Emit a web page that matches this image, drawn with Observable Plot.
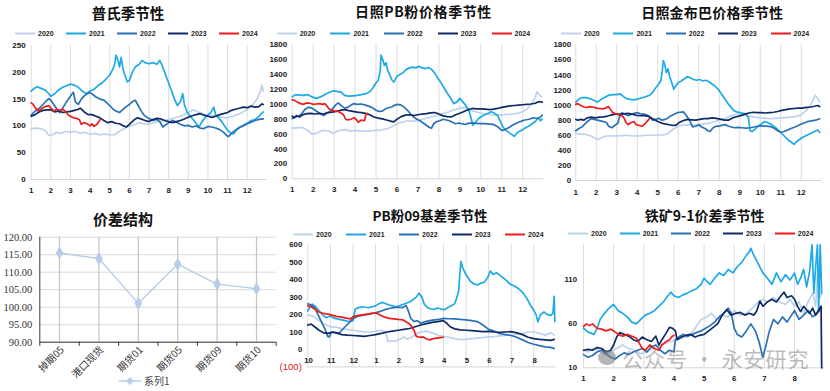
<!DOCTYPE html>
<html><head><meta charset="utf-8">
<script src="https://cdn.jsdelivr.net/npm/d3@7"></script>
<script src="https://cdn.jsdelivr.net/npm/@observablehq/plot@0.6"></script>
<style>
body{margin:0;background:#fff;width:830px;height:391px;overflow:hidden;position:relative;font-family:"Liberation Sans",Arial,sans-serif}
.panel{position:absolute;overflow:visible}
.panel svg{overflow:visible}
.title{position:absolute;font-family:"Noto Sans CJK SC";font-weight:700;font-size:14px;color:#111;white-space:nowrap;transform:translate(-50%,-50%);line-height:1}
.leg{position:absolute;font-size:7px;font-weight:bold;color:#222;white-space:nowrap;line-height:1;transform:translateY(-50%);font-family:"Liberation Sans",Arial,sans-serif}
.leg i{display:inline-block;width:20px;height:2px;vertical-align:middle;margin-right:3px}
</style></head><body>
<script>
// ---------- shared ----------
const years = ["2020","2021","2022","2023","2024"];
const yearColors = ["#bdd3ec","#1eaae6","#2a72b5","#0f2a66","#ee1c1c"];

// ---------- Panel 1: 普氏季节性 ----------
const p1Ticks = [0,50,100,150,200,250];
const p1Months = [1,2,3,4,5,6,7,8,9,10,11,12];
const p1_2020 = [[1,95],[1.25,96],[1.5,95],[1.75,90],[1.9,82],[2.1,84],[2.3,88],[2.5,86],[2.75,90],[3,88],[3.25,90],[3.5,86],[3.75,88],[4,84],[4.25,86],[4.5,83],[4.75,85],[5,83],[5.25,84],[5.5,90],[5.75,95],[6,100],[6.25,102],[6.5,106],[6.75,104],[7,103],[7.25,106],[7.5,108],[7.75,110],[8,112],[8.25,114],[8.5,117],[8.75,120],[9,125],[9.25,130],[9.5,126],[9.75,122],[10,120],[10.25,119],[10.5,118],[10.75,116],[11,115],[11.25,118],[11.5,121],[11.75,125],[12,130],[12.25,138],[12.5,150],[12.65,162],[12.75,176],[12.82,165]];
const p1_2021 = [[1,165],[1.15,170],[1.3,173],[1.5,170],[1.7,167],[1.9,160],[2,155],[2.2,160],[2.4,167],[2.6,172],[2.8,175],[3,178],[3.2,176],[3.4,172],[3.6,165],[3.8,160],[4,165],[4.2,168],[4.4,175],[4.6,180],[4.8,187],[5,195],[5.15,205],[5.25,215],[5.32,232],[5.42,222],[5.5,210],[5.58,228],[5.68,205],[5.8,192],[5.9,182],[6,185],[6.15,200],[6.3,210],[6.5,215],[6.65,222],[6.8,218],[7,216],[7.2,218],[7.4,215],[7.55,222],[7.7,210],[7.85,195],[8,180],[8.15,165],[8.3,150],[8.45,138],[8.6,145],[8.72,160],[8.8,140],[8.95,125],[9.1,118],[9.25,112],[9.4,105],[9.55,98],[9.7,108],[9.85,115],[10,120],[10.15,125],[10.3,135],[10.4,120],[10.55,115],[10.7,108],[10.85,100],[11,92],[11.15,87],[11.3,85],[11.45,92],[11.6,97],[11.75,100],[11.9,103],[12.05,106],[12.2,110],[12.4,112],[12.55,116],[12.7,122],[12.82,126]];
const p1_2022 = [[1,120],[1.15,126],[1.3,130],[1.45,134],[1.6,140],[1.75,146],[1.9,151],[2,148],[2.15,140],[2.3,132],[2.45,125],[2.6,133],[2.75,142],[2.9,150],[3.05,158],[3.15,163],[3.25,145],[3.4,140],[3.55,150],[3.7,156],[3.85,160],[4,162],[4.15,158],[4.3,154],[4.5,150],[4.7,148],[4.85,143],[5,138],[5.15,132],[5.3,128],[5.5,125],[5.65,130],[5.8,135],[6,140],[6.15,145],[6.3,148],[6.45,138],[6.6,128],[6.75,120],[6.9,116],[7.05,113],[7.2,110],[7.4,112],[7.55,108],[7.7,98],[7.85,102],[8,106],[8.2,110],[8.4,107],[8.6,103],[8.8,100],[9,101],[9.2,98],[9.4,100],[9.6,96],[9.8,95],[10,99],[10.2,98],[10.4,96],[10.6,93],[10.8,88],[10.95,82],[11.05,80],[11.2,86],[11.4,92],[11.6,97],[11.8,100],[12,104],[12.2,107],[12.4,110],[12.6,112],[12.82,113]];
const p1_2023 = [[1,118],[1.2,121],[1.4,126],[1.6,129],[1.8,130],[2,130],[2.2,126],[2.4,128],[2.6,125],[2.8,126],[3,127],[3.2,129],[3.4,131],[3.5,133],[3.7,126],[3.9,121],[4.1,121],[4.3,118],[4.5,115],[4.7,110],[4.9,106],[5.1,108],[5.3,105],[5.5,104],[5.7,100],[5.85,98],[6,103],[6.2,110],[6.4,115],[6.6,113],[6.8,110],[7,108],[7.2,112],[7.4,114],[7.6,113],[7.8,110],[8,108],[8.2,106],[8.4,108],[8.6,110],[8.8,113],[9,116],[9.2,119],[9.4,121],[9.6,123],[9.8,120],[10,118],[10.2,116],[10.4,118],[10.6,121],[10.8,123],[11,125],[11.2,129],[11.4,131],[11.6,133],[11.8,135],[12,134],[12.2,137],[12.4,135],[12.6,136],[12.75,141],[12.82,140]];
const p1_2024 = [[1,143],[1.1,140],[1.2,134],[1.35,128],[1.5,131],[1.65,135],[1.8,137],[1.9,138],[2,133],[2.15,128],[2.3,131],[2.45,129],[2.6,131],[2.75,127],[2.9,120],[3,118],[3.15,115],[3.3,114],[3.45,112],[3.55,103],[3.7,106],[3.85,104],[4,100],[4.1,104],[4.2,99],[4.35,103],[4.45,108],[4.53,113]];

// ---------- Panel 2: 日照PB粉价格季节性 ----------
const p2Ticks = [0,200,400,600,800,1000,1200,1400,1600,1800];
const p2_2020 = [[1,680],[1.25,685],[1.5,690],[1.75,650],[1.95,600],[2.15,610],[2.35,640],[2.55,650],[2.75,640],[2.95,610],[3.15,640],[3.35,655],[3.55,660],[3.75,640],[4,650],[4.25,640],[4.5,640],[4.75,645],[5,650],[5.25,655],[5.5,670],[5.75,700],[6,740],[6.25,760],[6.5,780],[6.75,775],[7,780],[7.25,800],[7.5,820],[7.75,840],[8,860],[8.25,880],[8.5,900],[8.75,930],[9,950],[9.25,960],[9.5,920],[9.75,900],[10,880],[10.25,870],[10.5,860],[10.75,855],[11,860],[11.25,865],[11.5,870],[11.75,880],[12,900],[12.25,950],[12.45,1020],[12.6,1100],[12.68,1170],[12.78,1130],[12.9,1100]];
const p2_2021 = [[1,1100],[1.15,1130],[1.35,1125],[1.55,1120],[1.75,1130],[1.95,1100],[2.15,1080],[2.35,1100],[2.55,1130],[2.75,1160],[2.95,1180],[3.15,1175],[3.35,1160],[3.5,1120],[3.7,1110],[3.9,1115],[4.1,1120],[4.3,1130],[4.5,1140],[4.7,1170],[4.85,1220],[5,1290],[5.1,1320],[5.2,1450],[5.24,1660],[5.32,1600],[5.4,1520],[5.48,1560],[5.55,1460],[5.65,1400],[5.75,1330],[5.85,1300],[6,1380],[6.15,1400],[6.3,1430],[6.45,1470],[6.6,1490],[6.75,1500],[6.9,1490],[7.05,1510],[7.2,1490],[7.35,1480],[7.5,1495],[7.65,1470],[7.8,1420],[7.95,1350],[8.1,1290],[8.25,1220],[8.4,1150],[8.55,1090],[8.7,1010],[8.85,1030],[9,1080],[9.15,1030],[9.3,980],[9.45,900],[9.55,800],[9.62,720],[9.75,760],[9.9,810],[10.05,840],[10.2,860],[10.35,880],[10.5,900],[10.65,880],[10.8,850],[10.95,760],[11.05,700],[11.2,650],[11.35,620],[11.5,590],[11.6,570],[11.7,610],[11.85,640],[12,660],[12.15,690],[12.3,710],[12.45,740],[12.6,770],[12.75,820],[12.85,780],[12.93,800]];
const p2_2022 = [[1,810],[1.15,830],[1.3,840],[1.45,870],[1.6,930],[1.75,960],[1.9,955],[2.05,930],[2.2,900],[2.35,870],[2.5,850],[2.65,880],[2.8,900],[2.95,950],[3.1,1000],[3.2,1020],[3.35,980],[3.5,950],[3.65,960],[3.8,990],[3.95,1010],[4.1,1000],[4.3,1005],[4.5,990],[4.7,970],[4.85,950],[5,920],[5.15,905],[5.3,910],[5.45,940],[5.6,955],[5.75,965],[5.9,990],[6.05,1000],[6.2,990],[6.35,960],[6.5,920],[6.65,870],[6.8,830],[6.95,800],[7.1,780],[7.25,750],[7.4,720],[7.55,690],[7.65,680],[7.75,740],[7.9,770],[8.05,780],[8.2,800],[8.35,790],[8.5,780],[8.65,760],[8.8,740],[8.95,750],[9.1,740],[9.25,730],[9.4,745],[9.6,750],[9.8,745],[10,740],[10.2,740],[10.4,735],[10.6,730],[10.8,700],[10.95,660],[11.05,650],[11.2,670],[11.35,690],[11.5,720],[11.65,740],[11.8,760],[11.95,775],[12.1,790],[12.3,800],[12.5,820],[12.7,810],[12.85,830],[12.93,855]];
const p2_2023 = [[1,840],[1.1,820],[1.2,850],[1.35,830],[1.5,860],[1.7,875],[1.9,880],[2.1,870],[2.3,880],[2.5,870],[2.7,890],[2.9,895],[3.1,905],[3.3,920],[3.5,930],[3.7,915],[3.9,905],[4.1,895],[4.3,890],[4.5,880],[4.7,860],[4.9,830],[5.1,815],[5.3,805],[5.5,790],[5.7,775],[5.85,765],[6,800],[6.2,835],[6.4,855],[6.6,860],[6.8,850],[7,860],[7.2,870],[7.4,875],[7.6,885],[7.8,890],[8,870],[8.2,845],[8.4,835],[8.6,830],[8.8,860],[9,880],[9.2,905],[9.4,930],[9.6,945],[9.8,940],[10,940],[10.2,935],[10.4,930],[10.6,935],[10.8,945],[11,960],[11.2,970],[11.4,980],[11.6,985],[11.8,990],[12,995],[12.2,1000],[12.4,1005],[12.6,1015],[12.75,1035],[12.93,1030]];
const p2_2024 = [[1,1060],[1.1,1055],[1.25,1030],[1.4,1010],[1.55,1000],[1.7,1020],[1.85,1015],[2,1000],[2.15,1005],[2.3,1010],[2.45,1000],[2.55,1010],[2.65,980],[2.75,940],[2.9,920],[3.05,910],[3.2,905],[3.35,880],[3.45,860],[3.55,800],[3.65,790],[3.8,800],[3.95,820],[4.05,800],[4.15,760],[4.3,790],[4.45,780],[4.5,850],[4.6,880]];

// ---------- Panel 3: 日照金布巴价格季节性 ----------
const p3_2020 = [[1,620],[1.25,615],[1.5,610],[1.75,590],[1.95,560],[2.1,545],[2.3,575],[2.5,590],[2.75,590],[3,590],[3.25,595],[3.5,600],[3.75,590],[4,590],[4.25,595],[4.5,600],[4.75,600],[5,600],[5.25,605],[5.5,620],[5.75,680],[6,720],[6.25,735],[6.5,740],[6.75,735],[7,740],[7.25,750],[7.5,760],[7.75,780],[8,800],[8.25,820],[8.5,850],[8.75,870],[9,880],[9.25,870],[9.5,850],[9.75,840],[10,830],[10.25,825],[10.5,820],[10.75,825],[11,830],[11.25,835],[11.5,840],[11.75,850],[12,870],[12.25,930],[12.45,1000],[12.6,1080],[12.68,1130],[12.8,1090],[12.9,1040]];
const p3_2021 = [[1,1040],[1.15,1080],[1.3,1100],[1.5,1100],[1.7,1085],[1.9,1060],[2.05,1040],[2.2,1070],[2.4,1100],[2.6,1130],[2.8,1140],[3,1140],[3.15,1150],[3.3,1120],[3.45,1090],[3.6,1080],[3.8,1070],[4,1080],[4.2,1095],[4.4,1110],[4.6,1130],[4.75,1170],[4.9,1230],[5.05,1280],[5.15,1330],[5.22,1450],[5.27,1590],[5.34,1540],[5.42,1430],[5.5,1480],[5.58,1380],[5.68,1300],[5.78,1210],[5.85,1240],[6,1300],[6.15,1320],[6.3,1350],[6.45,1380],[6.6,1360],[6.75,1340],[6.9,1330],[7.05,1340],[7.2,1320],[7.35,1330],[7.5,1310],[7.65,1280],[7.8,1250],[7.95,1210],[8.1,1150],[8.25,1090],[8.4,1030],[8.55,980],[8.7,930],[8.85,910],[9,900],[9.15,890],[9.3,880],[9.42,840],[9.5,660],[9.6,650],[9.75,680],[9.9,720],[10.05,750],[10.2,780],[10.35,770],[10.5,750],[10.65,720],[10.8,690],[10.95,650],[11.1,610],[11.25,570],[11.4,530],[11.55,500],[11.65,480],[11.75,510],[11.9,540],[12.05,570],[12.2,590],[12.35,610],[12.5,630],[12.65,650],[12.8,670],[12.9,640]];
const p3_2022 = [[1,660],[1.15,690],[1.3,710],[1.45,750],[1.6,790],[1.75,820],[1.9,810],[2.05,800],[2.2,790],[2.35,780],[2.5,770],[2.6,720],[2.75,700],[2.9,730],[3.05,760],[3.15,860],[3.25,900],[3.4,880],[3.55,860],[3.7,875],[3.85,890],[4,900],[4.15,885],[4.3,880],[4.45,870],[4.6,850],[4.75,800],[4.9,810],[5.05,825],[5.2,800],[5.35,810],[5.5,830],[5.65,860],[5.8,880],[5.95,900],[6.1,905],[6.25,910],[6.4,860],[6.55,800],[6.7,710],[6.85,720],[7,740],[7.15,710],[7.3,690],[7.45,660],[7.55,650],[7.7,700],[7.85,720],[8,720],[8.15,735],[8.3,740],[8.45,720],[8.6,710],[8.75,700],[8.9,705],[9.1,700],[9.3,695],[9.5,700],[9.7,710],[9.9,720],[10.1,725],[10.3,720],[10.5,715],[10.7,690],[10.85,660],[11,640],[11.15,650],[11.3,665],[11.5,690],[11.7,710],[11.9,735],[12.1,760],[12.3,780],[12.5,790],[12.7,800],[12.9,820]];
const p3_2023 = [[1,810],[1.1,800],[1.25,810],[1.4,800],[1.55,830],[1.75,840],[1.95,830],[2.15,840],[2.35,845],[2.55,855],[2.75,870],[2.95,880],[3.15,880],[3.35,885],[3.55,890],[3.75,880],[3.95,865],[4.15,860],[4.35,860],[4.55,850],[4.75,820],[4.95,790],[5.15,765],[5.35,750],[5.55,740],[5.75,730],[5.9,735],[6.05,770],[6.25,795],[6.45,810],[6.65,805],[6.85,800],[7.05,810],[7.25,820],[7.45,820],[7.65,830],[7.85,825],[8.05,815],[8.25,800],[8.45,800],[8.65,830],[8.85,845],[9.05,860],[9.25,880],[9.45,895],[9.65,905],[9.85,900],[10.05,900],[10.25,895],[10.45,900],[10.65,905],[10.85,915],[11.05,930],[11.25,940],[11.45,950],[11.65,955],[11.85,960],[12.05,960],[12.25,970],[12.45,975],[12.65,985],[12.8,995],[12.9,980]];
const p3_2024 = [[1,1010],[1.1,1020],[1.25,995],[1.4,975],[1.55,970],[1.7,980],[1.85,975],[2,960],[2.15,955],[2.3,950],[2.45,960],[2.6,980],[2.7,940],[2.8,900],[2.95,885],[3.1,870],[3.25,860],[3.35,830],[3.45,770],[3.55,740],[3.7,770],[3.85,780],[3.95,740],[4.1,730],[4.25,720],[4.4,760],[4.5,790],[4.6,820]];

// ---------- Panel 4: 价差结构 ----------
const p4Cats = ["掉期05","港口现货","期货01","期货05","期货09","期货10"];
const p4Vals = [115.5, 113.9, 101.1, 112.3, 106.6, 105.3];
const p4Ticks = [90,95,100,105,110,115,120];

// ---------- Panel 5: PB粉09基差季节性 (x = months since Oct) ----------
const p5Ticks = [0,100,200,300,400,500,600];
const p5Labels = ["10","11","12","1","2","3","4","5","6","7","8"];
const p5_2020 = [[0,200],[0.25,190],[0.5,165],[0.75,145],[1,130],[1.25,128],[1.5,120],[1.75,115],[2,110],[2.25,105],[2.5,100],[2.75,100],[3,105],[3.25,110],[3.45,100],[3.55,45],[3.7,50],[3.9,48],[4.1,60],[4.25,72],[4.4,58],[4.6,70],[4.8,90],[5,100],[5.25,105],[5.5,95],[5.75,82],[6,75],[6.25,70],[6.5,62],[6.75,56],[7,58],[7.25,62],[7.5,65],[7.75,68],[8,72],[8.25,74],[8.5,78],[8.75,80],[9,84],[9.25,88],[9.5,92],[9.75,100],[10,100],[10.25,92],[10.5,82],[10.75,95],[10.9,82]];
const p5_2021 = [[0,220],[0.1,245],[0.2,260],[0.35,245],[0.5,220],[0.65,200],[0.8,182],[1,192],[1.15,180],[1.3,175],[1.5,170],[1.65,165],[1.8,160],[2,165],[2.1,232],[2.25,240],[2.4,245],[2.55,242],[2.7,240],[2.85,245],[3,250],[3.15,262],[3.3,270],[3.45,262],[3.6,255],[3.75,250],[3.9,245],[4.05,250],[4.2,258],[4.35,265],[4.5,272],[4.65,285],[4.8,300],[4.92,322],[5.05,300],[5.15,260],[5.3,240],[5.45,232],[5.6,230],[5.75,238],[5.9,232],[6.05,228],[6.2,240],[6.35,250],[6.5,262],[6.6,300],[6.68,340],[6.73,440],[6.78,505],[6.85,470],[6.95,440],[7.05,420],[7.2,390],[7.35,375],[7.5,370],[7.65,380],[7.8,385],[7.95,410],[8.08,450],[8.2,430],[8.35,440],[8.5,425],[8.65,410],[8.8,395],[8.95,375],[9.1,365],[9.25,355],[9.4,340],[9.55,320],[9.7,290],[9.85,255],[10,225],[10.1,200],[10.18,158],[10.3,200],[10.45,215],[10.6,200],[10.75,195],[10.85,210],[10.9,305],[10.93,160]];
const p5_2022 = [[0,262],[0.15,255],[0.3,240],[0.45,200],[0.6,160],[0.75,120],[0.88,75],[0.95,72],[1.05,100],[1.2,95],[1.35,90],[1.5,110],[1.65,130],[1.8,150],[2,175],[2.2,190],[2.4,195],[2.6,200],[2.8,205],[3,210],[3.2,218],[3.4,228],[3.6,235],[3.8,240],[4,242],[4.2,240],[4.35,252],[4.45,220],[4.55,180],[4.7,160],[4.85,165],[5,150],[5.2,160],[5.4,165],[5.6,170],[5.8,172],[6,178],[6.25,176],[6.5,175],[6.75,172],[7,170],[7.25,165],[7.5,160],[7.75,140],[8,115],[8.25,105],[8.5,90],[8.75,85],[9,80],[9.25,70],[9.5,55],[9.75,40],[10,30],[10.25,22],[10.5,15],[10.75,12],[10.9,5]];
const p5_2023 = [[0,140],[0.15,145],[0.3,130],[0.5,110],[0.7,95],[0.9,92],[1.1,100],[1.3,95],[1.5,85],[1.75,82],[2,80],[2.25,78],[2.5,75],[2.75,80],[3,85],[3.25,92],[3.5,100],[3.75,105],[4,110],[4.25,115],[4.5,120],[4.75,130],[5,140],[5.25,148],[5.5,155],[5.75,160],[6,165],[6.15,150],[6.3,130],[6.5,118],[6.75,112],[7,110],[7.25,108],[7.5,105],[7.75,102],[8,104],[8.25,100],[8.5,98],[8.75,100],[9,102],[9.25,95],[9.5,85],[9.75,70],[10,62],[10.25,58],[10.5,55],[10.75,52],[10.9,58]];
const p5_2024 = [[0,250],[0.15,245],[0.3,232],[0.5,215],[0.75,205],[1,200],[1.25,190],[1.5,185],[1.75,178],[1.9,175],[2,188],[2.25,195],[2.5,200],[2.75,205],[3,210],[3.2,198],[3.4,185],[3.6,178],[3.8,175],[4,172],[4.2,170],[4.4,155],[4.55,140],[4.7,110],[4.8,75],[4.95,70],[5.1,72],[5.25,60],[5.4,55],[5.55,62],[5.7,65],[5.85,68],[6,70]];

// ---------- Panel 6: 铁矿9-1价差季节性 ----------
const p6Ticks = [10,60,110];
const p6Months = [1,2,3,4,5,6,7,8];
const p6_2020 = [[1,30],[1.15,28],[1.3,32],[1.5,30],[1.7,25],[1.9,28],[2.1,32],[2.3,36],[2.5,32],[2.7,30],[2.9,26],[3.1,28],[3.3,32],[3.5,35],[3.7,38],[3.9,40],[4.1,42],[4.3,44],[4.5,46],[4.7,55],[4.9,65],[5.1,68],[5.25,72],[5.4,65],[5.6,70],[5.8,68],[6,75],[6.2,70],[6.4,72],[6.6,78],[6.8,85],[6.95,88],[7.1,85],[7.3,90],[7.5,85],[7.7,82],[7.85,88],[8,80],[8.15,85],[8.3,72],[8.45,85],[8.6,95],[8.7,80],[8.78,130],[8.85,90],[8.9,95]];
const p6_2021 = [[1,55],[1.1,52],[1.2,50],[1.35,48],[1.45,55],[1.55,65],[1.7,72],[1.85,78],[2,82],[2.15,75],[2.3,72],[2.45,68],[2.6,62],[2.75,60],[2.9,65],[3.05,70],[3.2,72],[3.35,75],[3.5,80],[3.65,85],[3.8,92],[3.9,96],[4,92],[4.15,90],[4.3,93],[4.45,95],[4.6,98],[4.75,100],[4.9,105],[5,112],[5.1,108],[5.2,105],[5.35,112],[5.5,118],[5.65,115],[5.8,122],[5.95,118],[6.1,125],[6.25,130],[6.4,138],[6.5,142],[6.55,146],[6.65,138],[6.8,128],[6.95,118],[7.1,112],[7.25,105],[7.4,118],[7.55,108],[7.7,116],[7.85,110],[8,118],[8.1,105],[8.2,112],[8.3,122],[8.4,102],[8.5,120],[8.58,150],[8.64,95],[8.7,125],[8.76,150],[8.8,75],[8.85,150],[8.9,95]];
const p6_2022 = [[1,25],[1.15,22],[1.3,24],[1.45,28],[1.6,30],[1.75,26],[1.9,22],[2.05,20],[2.2,24],[2.35,27],[2.5,25],[2.65,28],[2.8,30],[2.95,32],[3.1,28],[3.25,34],[3.4,36],[3.55,30],[3.7,26],[3.85,30],[4,28],[4.05,42],[4.15,45],[4.3,48],[4.45,46],[4.6,48],[4.75,50],[4.9,52],[5.05,55],[5.2,58],[5.35,62],[5.5,68],[5.65,72],[5.8,78],[5.9,72],[6,55],[6.1,48],[6.25,45],[6.4,52],[6.55,60],[6.7,52],[6.82,40],[6.95,22],[7.05,35],[7.15,50],[7.3,65],[7.45,60],[7.6,68],[7.75,62],[7.9,70],[8,75],[8.15,65],[8.3,70],[8.45,75],[8.6,68],[8.75,72],[8.9,78]];
const p6_2023 = [[1,30],[1.15,31],[1.3,30],[1.45,33],[1.6,32],[1.75,28],[1.9,30],[2,36],[2.1,45],[2.2,50],[2.35,48],[2.5,46],[2.65,42],[2.8,40],[2.95,45],[3.1,42],[3.25,40],[3.4,46],[3.5,36],[3.6,42],[3.75,50],[3.85,56],[3.95,55],[4.05,52],[4.1,42],[4.25,45],[4.4,47],[4.55,48],[4.7,45],[4.85,47],[5,48],[5.15,52],[5.3,56],[5.45,60],[5.6,70],[5.75,76],[5.9,70],[6.05,72],[6.2,73],[6.35,70],[6.5,72],[6.65,70],[6.75,75],[6.85,86],[6.95,80],[7.1,85],[7.25,88],[7.4,85],[7.55,92],[7.65,96],[7.75,90],[7.9,92],[8,88],[8.1,80],[8.2,74],[8.3,80],[8.4,76],[8.5,72],[8.6,78],[8.7,70],[8.8,76],[8.88,80],[8.9,10]];
const p6_2024 = [[1,57],[1.1,60],[1.2,58],[1.3,60],[1.45,55],[1.6,54],[1.75,52],[1.9,54],[2,52],[2.15,48],[2.3,46],[2.45,48],[2.6,46],[2.75,44],[2.85,38],[2.95,32],[3.05,30],[3.2,36],[3.35,32],[3.5,30],[3.6,36],[3.75,40],[3.85,42],[3.95,46],[4,47]];

// ---------- helpers ----------
function place(svg, left, top) {
  const d = document.createElement("div");
  d.className = "panel";
  d.style.left = left + "px"; d.style.top = top + "px";
  d.appendChild(svg);
  document.body.appendChild(d);
}
function title(text, cx, cy, size, ls) {
  const d = document.createElement("div");
  d.className = "title";
  d.textContent = text;
  d.style.left = cx + "px"; d.style.top = cy + "px";
  if (size) d.style.fontSize = size + "px";
  if (ls) d.style.letterSpacing = ls + "px";
  document.body.appendChild(d);
}
function legend(x0, y, spacing) {
  years.forEach((yr, i) => {
    const d = document.createElement("div");
    d.className = "leg";
    d.style.left = (x0 + i * spacing) + "px"; d.style.top = y + "px";
    d.innerHTML = `<i style="background:${yearColors[i]}"></i>${yr}`;
    document.body.appendChild(d);
  });
}
function seasonal(o) {
  const marks = [
    Plot.ruleX(o.grid, {x: d => d, stroke: "#dcdcdc", strokeWidth: 1}),
    Plot.ruleY([o.yDomain[0]], {stroke: "#d4d4d4"}),
    ...o.series.map((s, i) => Plot.line(s, {x: d => d[0], y: d => d[1], stroke: yearColors[i], strokeWidth: 1.7, strokeLinejoin: "round"})),
    Plot.axisY({ticks: o.yTicks, tickSize: 0, tickPadding: o.yPad, tickFormat: d => String(d)}),
    ...(o.extra || [])
  ];
  if (o.xAxis !== false) marks.push(Plot.axisX({ticks: o.grid, tickSize: 0, tickPadding: o.xPad, tickFormat: d => String(d)}));
  return Plot.plot({
    width: o.width, height: o.height,
    marginLeft: o.mL, marginRight: o.mR, marginTop: o.mT, marginBottom: o.mB,
    x: {domain: o.xDomain, axis: null}, y: {domain: o.yDomain, axis: null},
    marks,
    style: {fontFamily: "'Liberation Sans', Arial, sans-serif", fontSize: (o.fs || 8) + "px", fontWeight: "bold", color: "#1a1a1a", background: "transparent", overflow: "visible"}
  });
}

// ---------- Panel 1 ----------
title("普氏季节性", 128, 12.5, 14.5);
legend(15, 32.7, 51);
place(seasonal({width: 270, height: 160, mL: 30.7, mR: 3.7, mT: 7, mB: 19,
  xDomain: [1, 13], yDomain: [0, 250], grid: p1Months, yTicks: p1Ticks, yPad: 5.5, xPad: 7.5,
  series: [p1_2020, p1_2021, p1_2022, p1_2023, p1_2024]}), 0, 38);

// ---------- Panel 2 ----------
title("日照PB粉价格季节性", 423.5, 11.2, 14, 0.6);
legend(276.7, 32.7, 53.7);
place(seasonal({width: 278, height: 160, mL: 21.7, mR: 4.8, mT: 6.3, mB: 19.7,
  xDomain: [1, 13], yDomain: [0, 1800], grid: p1Months, yTicks: p2Ticks, yPad: 5, xPad: 8,
  series: [p2_2020, p2_2021, p2_2022, p2_2023, p2_2024]}), 270, 38);

// ---------- Panel 3 ----------
title("日照金布巴价格季节性", 712.2, 11.7, 14, 0.2);
legend(561, 32.7, 52.4);
place(seasonal({width: 282, height: 160, mL: 27.3, mR: 8.8, mT: 6.3, mB: 18,
  xDomain: [1, 13], yDomain: [0, 1800], grid: p1Months, yTicks: p2Ticks, yPad: 4.6, xPad: 8.5,
  series: [p3_2020, p3_2021, p3_2022, p3_2023, p3_2024]}), 548, 38);

// ---------- Panel 4 ----------
title("价差结构", 123, 218.3, 15);
{
  const idx = p4Cats.map((c, i) => i + 0.5);
  const bounds = [0, 1, 2, 3, 4, 5, 6];
  const lc = "#b7cde8";
  const svg = Plot.plot({
    width: 277, height: 163, marginLeft: 39.3, marginRight: 1.3, marginTop: 8.7, marginBottom: 49.3,
    x: {domain: [0, 6], axis: null}, y: {domain: [90, 120], axis: null},
    marks: [
      Plot.ruleY(p4Ticks, {y: d => d, stroke: "#d9d9d9"}),
      Plot.ruleX(idx, {x: d => d, y1: 90, y2: 120, stroke: "#c4c4c4", strokeWidth: 1.2}),
      Plot.ruleX([0], {x: d => d, y1: 90, y2: 120, stroke: "#3a3a3a"}),
      Plot.ruleY([90], {y: d => d, stroke: "#3a3a3a"}),
      Plot.ruleX(bounds, {x: d => d, y1: 90, y2: 88.8, stroke: "#3a3a3a"}),
      Plot.line(p4Vals, {x: (d, i) => idx[i], y: d => d, stroke: lc, strokeWidth: 1.4}),
      Plot.dot(p4Vals, {x: (d, i) => idx[i], y: d => d, symbol: "diamond", r: 4, fill: lc, stroke: "none"}),
      Plot.axisY({ticks: p4Ticks, tickSize: 0, tickPadding: 7.5, tickFormat: d3.format(".2f"), fill: "#333"}),
      Plot.text(p4Cats, {x: (d, i) => idx[i], y: 90, text: d => d, rotate: -45, textAnchor: "end", dx: 3, dy: 6,
        fontFamily: "'Noto Sans CJK SC'", fontSize: 10, fill: "#333"})
    ],
    style: {fontFamily: "'Liberation Serif', 'Times New Roman', serif", fontSize: "10.5px", color: "#333", background: "transparent", overflow: "visible"}
  });
  place(svg, 0, 228);
  const lg = document.createElement("div");
  lg.style.cssText = "position:absolute;left:118px;top:374px;height:14px;display:flex;align-items:center;font-family:'Noto Sans CJK SC';font-size:10px;color:#444;line-height:1";
  lg.innerHTML = `<svg width="24" height="10" style="margin-right:2px"><line x1="1" y1="5" x2="23" y2="5" stroke="${lc}" stroke-width="1.5"/><path d="M12 1 L16 5 L12 9 L8 5 Z" fill="${lc}"/></svg>系列1`;
  document.body.appendChild(lg);
}

// ---------- Panel 5 ----------
title("PB粉09基差季节性", 430, 215.8, 13.5);
legend(293, 233.7, 53);
{
  const gridIdx = p5Labels.map((d, i) => i);
  place(seasonal({width: 290, height: 153, mL: 37.3, mR: 4.1, mT: 6.3, mB: 24.6,
    xDomain: [0, 11], yDomain: [-100, 600], grid: gridIdx, yTicks: p5Ticks, yPad: 5.5, fs: 7.8, xAxis: false,
    series: [p5_2020, p5_2021, p5_2022, p5_2023, p5_2024],
    extra: [
      Plot.axisY({ticks: [-100], tickSize: 0, tickPadding: 6, tickFormat: () => "(100)", fill: "#e8141c", fontWeight: "normal", fontSize: 9.5}),
      Plot.text(gridIdx, {x: d => d, y: 0, text: (d, i) => p5Labels[i], dy: 11.5, dx: 0.8})
    ]}), 270, 238);
}

// ---------- Panel 6 ----------
title("铁矿9-1价差季节性", 704.7, 215, 14);
legend(568, 233.3, 51.7);
place(seasonal({width: 282, height: 153, mL: 35, mR: 5.8, mT: 6.3, mB: 23.7,
  xDomain: [1, 9], yDomain: [10, 150], grid: p6Months, yTicks: p6Ticks, yPad: 6.5, xPad: 7.5, fs: 7.8,
  series: [p6_2020, p6_2021, p6_2022, p6_2023, p6_2024]}), 548, 238);

// watermark
{
  const ic = document.createElement("div");
  ic.style.cssText = "position:absolute;left:598px;top:350px;width:18px;height:15px;border-radius:50%;background:rgba(120,120,120,0.55)";
  document.body.appendChild(ic);
  const wm = document.createElement("div");
  wm.textContent = "公众号 · 永安研究";
  wm.style.cssText = "position:absolute;left:622px;top:358px;transform:translateY(-50%);font-family:'Noto Sans CJK SC';font-size:21px;color:rgba(120,120,120,0.5);white-space:nowrap;line-height:1;letter-spacing:1px";
  document.body.appendChild(wm);
}
</script>
</body></html>
